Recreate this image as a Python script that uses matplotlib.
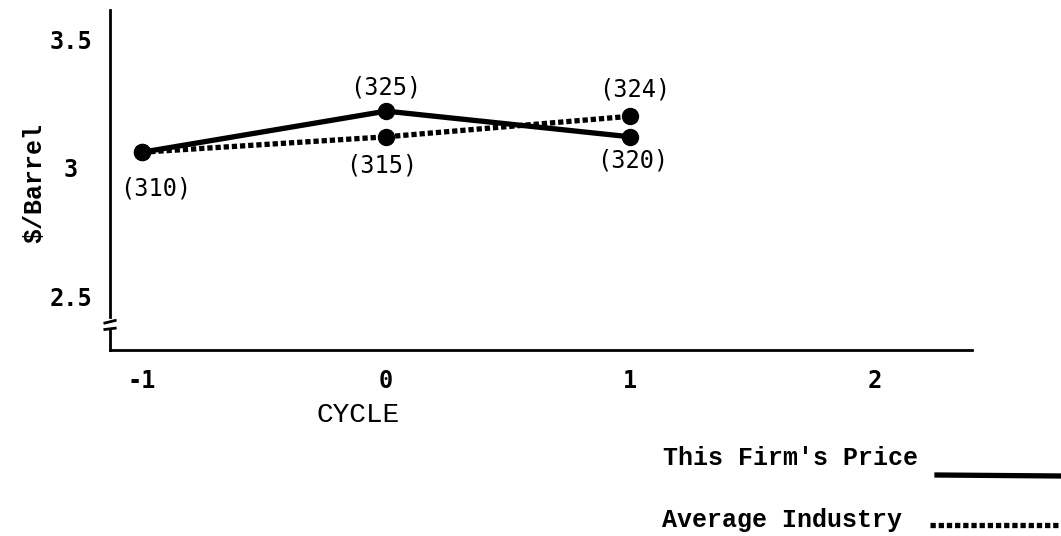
import matplotlib
matplotlib.use("Agg")
import matplotlib.pyplot as plt
import matplotlib.transforms as mtransforms
from matplotlib.lines import Line2D

# data (plotted positions) and the printed labels
cycles = [-1, 0, 1]
firm_price = [3.06, 3.22, 3.12]
industry_price = [3.06, 3.12, 3.20]
firm_labels = ["(310)", "(325)", "(320)"]
industry_labels = ["(310)", "(315)", "(324)"]
x_ticks = [-1, 0, 1, 2]
y_ticks = [2.5, 3, 3.5]
y_tick_labels = ["2.5", "3", "3.5"]
legend_names = ["This Firm's Price", "Average Industry"]

mono = "DejaVu Sans Mono"
typewriter = "Liberation Mono"

fig = plt.figure(figsize=(10.61, 5.36), dpi=100)
ax = fig.add_axes([0.1037, 0.347, 0.8124, 0.634])

dotted = (0, (1.0, 0.55))
ax.plot(cycles, firm_price, color="black", lw=3.8, marker="o", ms=11.5,
        solid_capstyle="round", zorder=3)
ax.plot(cycles, industry_price, color="black", lw=3.8, ls=dotted, marker="o",
        ms=11.5, zorder=3)

# value labels (offset in points)
firm_off = [(10, -26), (0, 17), (2, -17)]
ind_off = [(10, -26), (-3, -21), (3, 19)]
for i in range(len(cycles)):
    if i > 0:
        ax.annotate(firm_labels[i], (cycles[i], firm_price[i]), xytext=firm_off[i],
                    textcoords="offset points", ha="center", va="center",
                    fontsize=17, family=mono)
    ax.annotate(industry_labels[i], (cycles[i], industry_price[i]), xytext=ind_off[i],
                textcoords="offset points", ha="center", va="center",
                fontsize=17, family=mono)

ax.set_xlim(-1.131, 2.40)
ax.set_ylim(2.29, 3.613)
ax.set_xticks(x_ticks)
ax.set_xticklabels([str(t) for t in x_ticks], family=mono, fontsize=17, fontweight="bold")
ax.set_yticks(y_ticks)
ax.set_yticklabels(y_tick_labels, family=mono, fontsize=17, fontweight="bold", ha="center")
ax.tick_params(axis="x", length=0, pad=14)
ax.tick_params(axis="y", length=0, pad=28)

ax.spines["top"].set_visible(False)
ax.spines["right"].set_visible(False)
ax.spines["left"].set_linewidth(2)
ax.spines["bottom"].set_linewidth(2)
ax.spines["left"].set_bounds(2.42, 3.613)

# axis break on the y axis
trans = mtransforms.blended_transform_factory(ax.transAxes, ax.transData)
ax.plot([0, 0], [2.29, 2.37], color="black", lw=2, transform=trans, clip_on=False)
ax.plot([-0.006, 0.006], [2.37, 2.375], color="black", lw=2, transform=trans, clip_on=False)
ax.plot([-0.006, 0.006], [2.395, 2.405], color="black", lw=2, transform=trans, clip_on=False)

ax.set_xlabel("CYCLE", family=typewriter, fontsize=20)
ax.xaxis.set_label_coords(0.288, -0.152)
ax.set_ylabel("$/Barrel", family=typewriter, fontsize=18, fontweight="bold")
ax.yaxis.set_label_coords(-0.074, 0.49)

# legend: text on the left, line sample on the right
fig.text(663 / 1061, 1 - 458 / 536, legend_names[0], family=typewriter,
         fontsize=18, fontweight="bold", va="center", ha="left")
fig.text(662 / 1061, 1 - 520 / 536, legend_names[1], family=typewriter,
         fontsize=18, fontweight="bold", va="center", ha="left")
fig.add_artist(Line2D([937 / 1061, 1.0], [1 - 475 / 536, 1 - 476 / 536],
                      transform=fig.transFigure, color="black", lw=3.8))
fig.add_artist(Line2D([930 / 1061, 1.0], [1 - 525 / 536, 1 - 525 / 536],
                      transform=fig.transFigure, color="black", lw=3.8, ls=dotted))

fig.savefig("out.png", dpi=100)
